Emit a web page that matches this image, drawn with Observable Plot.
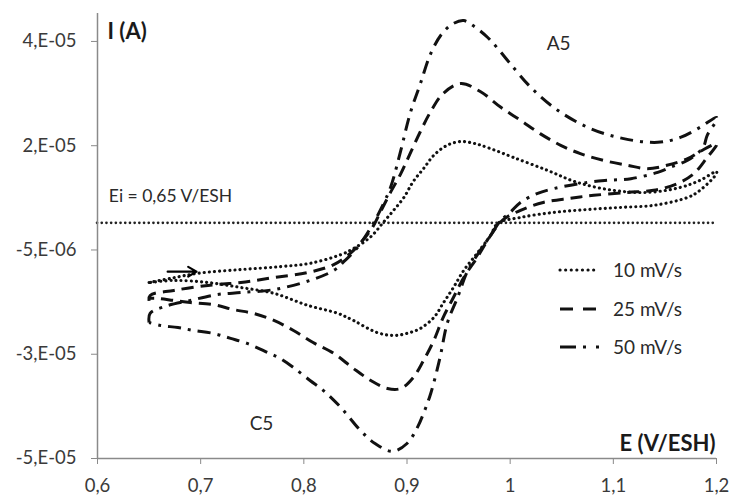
<!DOCTYPE html>
<html><head><meta charset="utf-8">
<script src="https://cdn.jsdelivr.net/npm/d3@7"></script>
<script src="https://cdn.jsdelivr.net/npm/@observablehq/plot@0.6"></script>
<style>
body{margin:0;background:#fff;}
#wrap{position:relative;width:730px;height:495px;font-family:Lato,"Open Sans",sans-serif;}
#wrap svg{display:block;}
#legend{position:absolute;left:0;top:0;pointer-events:none;}
</style></head><body><div id="wrap"></div>
<script>
// Scan rates
const seriesNames = ["10 mV/s", "25 mV/s", "50 mV/s"];

// Potential E (V/ESH) and current I (µA), in scan order: forward 0.65 -> 1.2 V, then back
const E10 = [0.650,0.671,0.697,0.739,0.777,0.806,0.836,0.850,0.865,0.877,0.887,0.897,0.906,0.916,0.926,0.939,0.952,0.966,0.981,1.003,1.036,1.065,1.100,1.133,1.165,1.184,1.200,
             1.200,1.184,1.172,1.139,1.107,1.075,1.042,1.010,0.988,0.981,0.968,0.955,0.945,0.935,0.926,0.913,0.900,0.887,0.871,0.848,0.833,0.804,0.771,0.739,0.707,0.674,0.651];
const I10 = [-12.8,-11.8,-10.6,-9.7,-9.0,-8.2,-6.1,-4.4,-1.8,1.6,4.5,7.6,11.4,14.5,17.7,20.1,21.0,20.5,19.3,17.2,14.1,11.2,9.3,8.8,10.0,11.7,13.8,
             13.3,9.3,7.6,5.7,5.2,4.7,4.0,2.8,1.4,-1.5,-5.8,-9.9,-14.0,-17.8,-21.2,-23.8,-25.0,-25.5,-24.8,-21.9,-20.2,-18.3,-15.4,-14.0,-12.8,-12.3,-12.8];

const E25 = [0.650,0.651,0.674,0.707,0.739,0.771,0.804,0.829,0.845,0.857,0.867,0.874,0.884,0.894,0.903,0.913,0.923,0.935,0.952,0.971,0.991,1.010,1.029,1.049,1.068,1.090,1.114,1.133,1.152,1.172,1.184,1.200,
             1.200,1.191,1.178,1.162,1.139,1.114,1.081,1.058,1.032,1.010,0.995,0.988,0.978,0.968,0.955,0.945,0.935,0.926,0.916,0.906,0.894,0.881,0.865,0.848,0.829,0.809,0.790,0.771,0.751,0.732,0.712,0.690,0.674,0.658,0.650];
const I25 = [-17.2,-15.9,-14.7,-13.5,-12.8,-11.6,-10.4,-8.5,-5.8,-2.7,0.6,4.0,8.8,13.3,18.1,23.4,28.2,32.5,34.9,33.0,29.2,26.1,22.9,20.1,18.1,16.5,15.3,14.5,15.3,16.9,18.6,20.5,
             20.1,17.2,13.3,10.9,9.3,8.8,8.1,7.4,6.4,4.5,2.6,0.9,-2.7,-6.8,-11.6,-16.4,-21.2,-26.7,-31.5,-35.6,-38.2,-38.2,-36.3,-33.4,-29.8,-27.2,-24.3,-21.9,-20.2,-19.3,-18.1,-17.6,-17.1,-16.6,-16.6];

const E50 = [0.650,0.651,0.666,0.690,0.716,0.739,0.771,0.806,0.829,0.840,0.852,0.865,0.874,0.884,0.894,0.903,0.913,0.923,0.934,0.945,0.955,0.964,0.978,0.988,1.000,1.020,1.046,1.078,1.110,1.143,1.165,1.184,1.200,
             1.200,1.191,1.187,1.172,1.155,1.143,1.117,1.094,1.075,1.042,1.026,1.010,1.000,0.991,0.981,0.971,0.959,0.949,0.939,0.932,0.923,0.916,0.910,0.900,0.886,0.869,0.855,0.836,0.819,0.806,0.790,0.777,0.765,0.745,0.729,0.712,0.693,0.678,0.661,0.650];
const I50 = [-22.4,-20.2,-18.5,-17.1,-15.7,-15.2,-14.5,-12.3,-9.9,-7.5,-4.4,0.4,4.5,10.0,18.9,27.7,34.9,42.1,46.9,49.3,50.0,48.8,46.0,43.3,39.7,34.0,28.5,24.1,21.7,20.8,22.0,24.4,26.8,
             26.1,22.5,19.6,16.5,14.8,13.6,12.1,11.7,11.2,9.7,8.5,6.4,4.0,2.1,-1.5,-5.1,-9.9,-16.4,-22.6,-30.8,-39.4,-44.2,-47.6,-51.4,-53.3,-51.4,-48.3,-42.8,-38.7,-36.3,-33.2,-31.0,-29.6,-27.4,-26.2,-25.0,-24.3,-23.6,-23.1,-22.4];

// Axis ticks and labels
const xTicks = [0.6, 0.7, 0.8, 0.9, 1.0, 1.1, 1.2];
const xTickLabels = ["0,6", "0,7", "0,8", "0,9", "1", "1,1", "1,2"];
const yTicks = [4.5e-5, 2e-5, -5e-6, -3e-5, -5.5e-5];
const yTickLabels = ["4,E-05", "2,E-05", "-5,E-06", "-3,E-05", "-5,E-05"];

// Reference line (current at Ei) and annotations
const eiCurrent = [1.5e-6];
const eiLabel = [{text: "Ei = 0,65 V/ESH", E: 0.611, I: 0.78e-5}];
const peakLabels = [{text: "A5", E: 1.047, I: 4.45e-5}, {text: "C5", E: 0.759, I: -4.66e-5}];
const scanArrow = [{E1: 0.668, E2: 0.696, I: -1.02e-5}];

const toRows = (E, I, name) => E.map((e, i) => ({E: e, I: I[i] * 1e-6, series: name}));
const rows10 = toRows(E10, I10, seriesNames[0]);
const rows25 = toRows(E25, I25, seriesNames[1]);
const rows50 = toRows(E50, I50, seriesNames[2]);

const styles = [
  {strokeDasharray: "0.1,5", strokeLinecap: "round", strokeWidth: 3.1},
  {strokeDasharray: "12,7", strokeLinecap: "butt", strokeWidth: 3},
  {strokeDasharray: "13,7,3,7", strokeLinecap: "butt", strokeWidth: 3}
];

const lookup = (ticks, labels) => d => labels[ticks.findIndex(t => Math.abs(t - d) < 1e-12)];
const FONT = "Lato, 'Open Sans', sans-serif";

const chart = Plot.plot({
  width: 730, height: 495,
  marginLeft: 97, marginRight: 14, marginTop: 13, marginBottom: 37,
  style: {fontFamily: FONT, fontSize: "18px", background: "#fff"},
  x: {domain: [0.6, 1.2]},
  y: {domain: [-5.5e-5, 5.17e-5]},
  marks: [
    Plot.ruleY(eiCurrent, {stroke: "#222", strokeWidth: 2.6, strokeDasharray: "0.1,4.6", strokeLinecap: "round"}),
    Plot.line(rows10, {x: "E", y: "I", stroke: "#111", curve: "catmull-rom", ...styles[0]}),
    Plot.line(rows25, {x: "E", y: "I", stroke: "#111", curve: "catmull-rom", ...styles[1]}),
    Plot.line(rows50, {x: "E", y: "I", stroke: "#111", curve: "catmull-rom", ...styles[2]}),
    Plot.ruleX([0.6], {stroke: "#8a8a8a", strokeWidth: 1.5}),
    Plot.ruleY([-5.5e-5], {stroke: "#8a8a8a", strokeWidth: 1.5}),
    Plot.axisX({ticks: xTicks, tickFormat: lookup(xTicks, xTickLabels), tickSize: 6, tickPadding: 14, label: null,
                stroke: "#8a8a8a", fill: "#3a3a3a", fontSize: 18.5}),
    Plot.axisY({ticks: yTicks, tickFormat: lookup(yTicks, yTickLabels), tickSize: 6, tickPadding: 15, label: null,
                stroke: "#8a8a8a", fill: "#3a3a3a", fontSize: 18.5}),
    Plot.text(eiLabel, {x: "E", y: "I", text: "text", textAnchor: "start", fill: "#2a2a2a", fontSize: 17.5}),
    Plot.text(peakLabels, {x: "E", y: "I", text: "text", fill: "#2a2a2a", fontSize: 19}),
    Plot.arrow(scanArrow, {x1: "E1", x2: "E2", y1: "I", y2: "I", stroke: "#000", strokeWidth: 2.2, headLength: 9}),
    Plot.text(["I (A)"], {frameAnchor: "top-left", dx: 10, dy: 18, lineAnchor: "middle", fontWeight: "bold", fontSize: 22, fill: "#1a1a1a"}),
    Plot.text(["E (V/ESH)"], {frameAnchor: "bottom-right", dx: -1, dy: -15, lineAnchor: "middle", textAnchor: "end", fontWeight: "bold", fontSize: 22, fill: "#1a1a1a"})
  ]
});
const wrap = document.getElementById("wrap");
wrap.appendChild(chart);

// Legend (line style samples)
const leg = d3.select(wrap).append("svg").attr("id", "legend").attr("width", 730).attr("height", 495);
const legY = [270, 309, 347];
const legDash = ["0.1,5.5", "13,10", "16,7,3,10"];
seriesNames.forEach((name, i) => {
  const s = styles[i];
  leg.append("line").attr("x1", 560).attr("x2", 599).attr("y1", legY[i]).attr("y2", legY[i])
    .attr("stroke", "#111").attr("stroke-width", s.strokeWidth)
    .attr("stroke-dasharray", legDash[i])
    .attr("stroke-linecap", s.strokeLinecap);
  leg.append("text").attr("x", 613).attr("y", legY[i]).attr("dy", "0.35em")
    .attr("font-family", FONT).attr("font-size", 19).attr("fill", "#2a2a2a").text(name);
});
</script></body></html>
